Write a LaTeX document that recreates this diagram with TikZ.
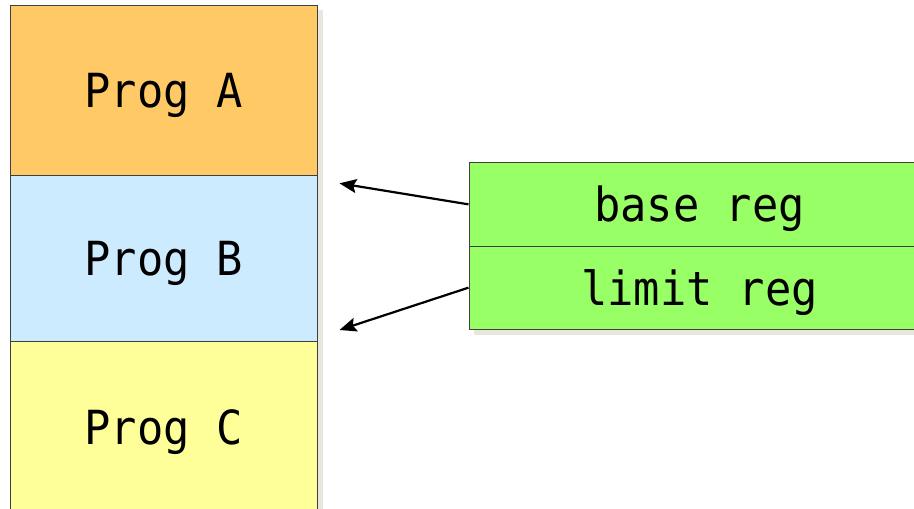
\documentclass[tikz,border=0pt]{standalone}
\usepackage{fontspec}
\newfontfamily\labelfont[FakeStretch=0.93]{DejaVu Sans Mono}
\usetikzlibrary{arrows.meta}
\definecolor{progA}{HTML}{FFCA66}
\definecolor{progB}{HTML}{CCEBFF}
\definecolor{progC}{HTML}{FFFF99}
\definecolor{regfill}{HTML}{99FF66}
\definecolor{edgegray}{HTML}{3F3F3F}
\definecolor{shadowcol}{HTML}{E9E6DF}
\begin{document}
\begin{tikzpicture}[x=1pt,y=-1pt,
  box/.style={draw=edgegray, line width=1pt, inner sep=0pt,
    font=\labelfont\fontsize{47}{50}\selectfont,
    text height=35pt, text depth=0pt},
  mem/.style={box, minimum width=307pt},
  reg/.style={box, minimum width=461pt, minimum height=83.3pt, fill=regfill},
  arr/.style={line width=2.2pt, -{Stealth[length=17pt,width=14pt,inset=3pt]}}]
\useasboundingbox (0,0) rectangle (914,509);

% memory column
\node[mem, fill=progA, minimum height=169.3pt] (A) at (163.5,90.35) {Prog A};
\node[mem, fill=progB, minimum height=166.7pt] (B) at (163.5,258.35) {Prog B};
\node[mem, fill=progC, minimum height=171pt]   (C) at (163.5,427.2) {Prog C};

% registers
\node[reg] (base)  at (699.5,204.35) {base reg};
\node[reg] (limit) at (699.5,287.65) {limit reg};

% drop shadows (offset right and down)
\fill[shadowcol] ([shift={(0.5,5)}]A.north east) rectangle ([shift={(5,5)}]C.south east);
\fill[shadowcol] ([shift={(5,0.5)}]limit.south west) rectangle ([shift={(5,5)}]limit.south east);

% redraw borders over the shadow edge
\draw[edgegray, line width=1pt] (A.north east) -- (C.south east);
\draw[edgegray, line width=1pt] (limit.south west) -- (limit.south east);

% pointers
\coordinate (tipA) at (339.5,183.3);
\coordinate (tipB) at (339.5,330);
\draw[arr] (base.west) -- (tipA);
\draw[arr] (limit.west) -- (tipB);
\end{tikzpicture}
\end{document}
